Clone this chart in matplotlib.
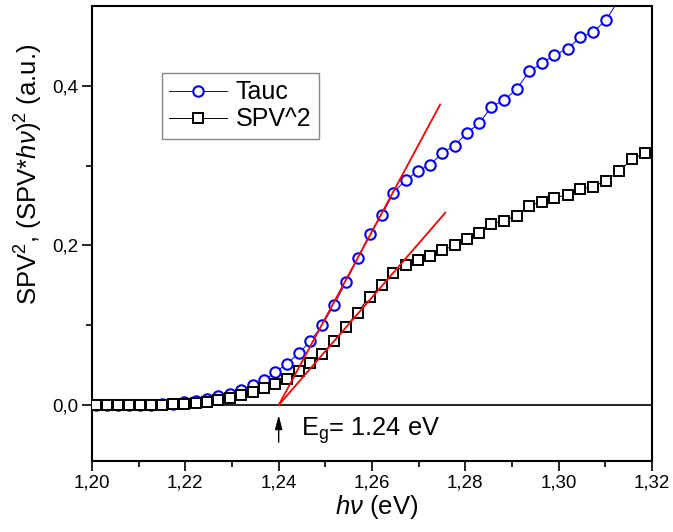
import matplotlib
matplotlib.use("Agg")
import matplotlib.pyplot as plt
from matplotlib.ticker import MultipleLocator, FixedLocator, FixedFormatter

# ── Data ─────────────────────────────────────────────────────────────────
energy = [1.2009, 1.2032, 1.2056, 1.2079, 1.2103, 1.2127, 1.2150, 1.2174, 1.2198, 1.2222,
          1.2246, 1.2271, 1.2295, 1.2319, 1.2344, 1.2369, 1.2393, 1.2418, 1.2443, 1.2468,
          1.2493, 1.2519, 1.2544, 1.2569, 1.2595, 1.2621, 1.2646, 1.2672, 1.2698, 1.2724,
          1.2751, 1.2777, 1.2803, 1.2830, 1.2856, 1.2883, 1.2910, 1.2937, 1.2964, 1.2991,
          1.3019, 1.3046, 1.3073, 1.3101, 1.3129, 1.3157, 1.3185]

tauc = [0.0, 0.0, 0.0, 0.0, 0.0002, 0.0005, 0.001, 0.002, 0.0033, 0.0054,
        0.0075, 0.011, 0.014, 0.019, 0.025, 0.031, 0.041, 0.052, 0.065, 0.080,
        0.100, 0.126, 0.154, 0.184, 0.214, 0.238, 0.266, 0.282, 0.293, 0.301,
        0.316, 0.325, 0.341, 0.353, 0.374, 0.382, 0.396, 0.418, 0.428, 0.439,
        0.446, 0.461, 0.467, 0.482, 0.508, 0.522, 0.535]

spv2 = [0.0, 0.0, 0.0, 0.0, 0.0, 0.0003, 0.0006, 0.001, 0.0018, 0.003,
        0.0045, 0.0065, 0.0085, 0.0122, 0.0167, 0.021, 0.027, 0.0333, 0.0425, 0.053,
        0.0646, 0.080, 0.098, 0.116, 0.136, 0.150, 0.166, 0.176, 0.182, 0.187,
        0.194, 0.200, 0.208, 0.215, 0.227, 0.231, 0.2375, 0.250, 0.2546, 0.2596,
        0.2638, 0.2704, 0.2738, 0.281, 0.293, 0.308, 0.316]

# ajustes lineales (extremos)
fit_tauc_x = [1.24, 1.2746]
fit_tauc_y = [0.0, 0.3766]
fit_spv_x = [1.24, 1.2757]
fit_spv_y = [0.0, 0.241]

eg_value = 1.24

xticks = [1.20, 1.22, 1.24, 1.26, 1.28, 1.30, 1.32]
xtick_labels = ["1,20", "1,22", "1,24", "1,26", "1,28", "1,30", "1,32"]
yticks = [0.0, 0.2, 0.4]
ytick_labels = ["0,0", "0,2", "0,4"]

# ── Estilo ───────────────────────────────────────────────────────────────
plt.rcParams["font.family"] = ["Liberation Sans", "DejaVu Sans"]
plt.rcParams["mathtext.fontset"] = "custom"
plt.rcParams["mathtext.rm"] = "Liberation Sans"
plt.rcParams["mathtext.it"] = "Liberation Sans:italic"

fig = plt.figure(figsize=(6.73, 5.32), dpi=100)
ax = fig.add_axes([0.1367, 0.1335, 0.8321, 0.8552])

ax.axhline(0, color="black", lw=1.2, zorder=1)

ax.plot(energy, tauc, color="blue", lw=0.7, marker="o", ms=7.5,
        mfc="white", mec="blue", mew=1.5, label="Tauc", zorder=2)
ax.plot(energy, spv2, color="black", lw=0.7, marker="s", ms=6.5,
        mfc="white", mec="black", mew=1.4, label="SPV^2", zorder=3)

ax.plot(fit_tauc_x, fit_tauc_y, color="red", lw=1.3, zorder=4)
ax.plot(fit_spv_x, fit_spv_y, color="red", lw=1.3, zorder=4)

# flecha y texto de Eg
ax.annotate("", xy=(eg_value, -0.009), xytext=(eg_value, -0.05),
            arrowprops=dict(arrowstyle="-|>,head_width=0.18,head_length=0.7",
                            color="black", lw=1, mutation_scale=12))
ax.text(1.2448, -0.0384, r"E$_{\rm g}$= 1.24 eV", fontsize=18.3, va="baseline")

ax.set_xlim(1.20, 1.32)
ax.set_ylim(-0.07, 0.5)

ax.xaxis.set_major_locator(FixedLocator(xticks))
ax.xaxis.set_major_formatter(FixedFormatter(xtick_labels))
ax.xaxis.set_minor_locator(MultipleLocator(0.01))
ax.yaxis.set_major_locator(FixedLocator(yticks))
ax.yaxis.set_major_formatter(FixedFormatter(ytick_labels))
ax.yaxis.set_minor_locator(FixedLocator([0.1, 0.3]))

ax.tick_params(which="major", direction="out", length=7, width=1.2,
               labelsize=13.5, pad=3)
ax.tick_params(which="minor", direction="out", length=4, width=1.2)
ax.tick_params(top=False, right=False, which="both")

for s in ax.spines.values():
    s.set_linewidth(1.5)

ax.set_xlabel(r"$h\nu$ (eV)", fontsize=18.5, labelpad=1)
ax.set_ylabel(r"SPV$^2$, (SPV*$h\nu$)$^2$ (a.u.)", fontsize=18.5, labelpad=5)
ax.xaxis.label.set_x(0.509)
ax.yaxis.label.set_y(0.63)

leg = ax.legend(loc="upper left", bbox_to_anchor=(0.125, 0.853),
                borderaxespad=0, fontsize=18, fancybox=False, framealpha=1,
                edgecolor="#888888", handlelength=2.3, handletextpad=0.35,
                borderpad=0.3, labelspacing=0.12)
leg.get_frame().set_linewidth(1.0)

fig.savefig("out.png", dpi=100)
